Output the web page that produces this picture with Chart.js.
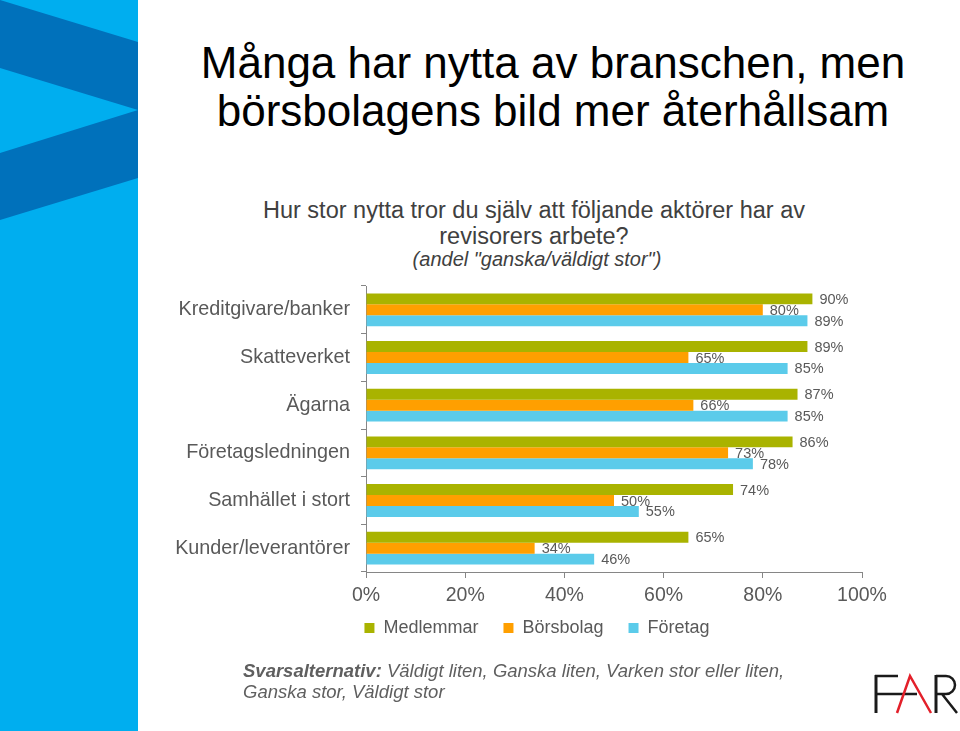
<!DOCTYPE html>
<html>
<head>
<meta charset="utf-8">
<script src="https://cdn.jsdelivr.net/npm/chart.js@4.4.1/dist/chart.umd.min.js"></script>
<style>
  body { margin: 0; width: 960px; height: 731px; position: relative; overflow: hidden; background: #fff;
         font-family: "Liberation Sans", Arial, sans-serif; }
  .abs { position: absolute; }
  #title { left: 150px; width: 806px; top: 39px; font-size: 44px; line-height: 48px; text-align: center; color: #000; }
  #sub { left: 150px; width: 768px; top: 197px; font-size: 23.5px; line-height: 26px; text-align: center; color: #404040; }
  #note { left: 150px; width: 774px; top: 248px; font-size: 20px; line-height: 23px; text-align: center; color: #404040; font-style: italic; }
  #foot { left: 243px; top: 660px; font-size: 18.5px; line-height: 21px; color: #5f5f5f; font-style: italic; }
  #wrap { left: 156px; top: 278px; width: 760px; height: 383px; }
</style>
</head>
<body>

<svg class="abs" style="left:0;top:0" width="139" height="731">
  <rect x="0" y="0" width="138" height="731" fill="#00AEEF"/>
  <polygon points="0,0 138,42 138,110 0,68" fill="#0071BB"/>
  <polygon points="0,153 138,110 138,178 0,220" fill="#0071BB"/>
</svg>

<div id="title" class="abs">Många har nytta av branschen, men<br>börsbolagens bild mer återhållsam</div>
<div id="sub" class="abs">Hur stor nytta tror du själv att följande aktörer har av<br>revisorers arbete?</div>
<div id="note" class="abs">(andel "ganska/väldigt stor")</div>

<div id="wrap" class="abs"><canvas id="chart"></canvas></div>

<div id="foot" class="abs"><b>Svarsalternativ:</b> Väldigt liten, Ganska liten, Varken stor eller liten,<br>Ganska stor, Väldigt stor</div>

<svg class="abs" style="left:870px;top:670px" width="90" height="48">
  <g stroke-linecap="butt" fill="none">
    <line x1="6" y1="5" x2="6" y2="43" stroke="#1a1a1a" stroke-width="3"/>
    <line x1="5" y1="6" x2="28" y2="6" stroke="#1a1a1a" stroke-width="2.5"/>
    <line x1="5" y1="24" x2="47" y2="24" stroke="#1a1a1a" stroke-width="2.5"/>
    <polyline points="27,43 40,6 61,43" stroke="#e3202a" stroke-width="2.5"/>
    <line x1="66" y1="5" x2="66" y2="43" stroke="#1a1a1a" stroke-width="3"/>
    <path d="M66,6 H76 A9,9 0 0 1 76,24 H66 M72,24 L87,43" stroke="#1a1a1a" stroke-width="2.5"/>
  </g>
</svg>

<script>
// Hur stor nytta ... (andel "ganska/väldigt stor")
var categories = ['Kreditgivare/banker', 'Skatteverket', 'Ägarna', 'Företagsledningen', 'Samhället i stort', 'Kunder/leverantörer'];
var medlemmar = [90, 89, 87, 86, 74, 65];
var borsbolag = [80, 65, 66, 73, 50, 34];
var foretag = [89, 85, 85, 78, 55, 46];
var xTicks = [0, 20, 40, 60, 80, 100];

var grey = '#595959';
var axisGrey = '#868686';
var fontFam = '"Liberation Sans", Arial, sans-serif';

// percent labels just right of each bar end
var barLabels = {
  id: 'barLabels',
  afterDatasetsDraw: function(chart) {
    var ctx = chart.ctx;
    ctx.save();
    ctx.font = '14.5px ' + fontFam;
    ctx.fillStyle = grey;
    ctx.textAlign = 'left';
    ctx.textBaseline = 'middle';
    chart.data.datasets.forEach(function(ds, i) {
      chart.getDatasetMeta(i).data.forEach(function(bar, j) {
        ctx.fillText(ds.data[j] + '%', bar.x + 7, bar.y + 1);
      });
    });
    ctx.restore();
  }
};

// move the legend a bit: it sits under the whole slide, not just the plot
var legendPlace = {
  id: 'legendPlace',
  afterLayout: function(chart) {
    var lg = chart.legend;
    var h = lg.height;
    lg.top = chart.chartArea.bottom + 22;
    lg.bottom = lg.top + h;
    lg.left += 28;
    lg.right += 28;
  }
};

var ctx = document.getElementById('chart').getContext('2d');
var chart = new Chart(ctx, {
  type: 'bar',
  data: {
    labels: categories,
    datasets: [
      { label: 'Medlemmar', data: medlemmar, backgroundColor: '#A9B300' },
      { label: 'Börsbolag', data: borsbolag, backgroundColor: '#FF9F00' },
      { label: 'Företag', data: foretag, backgroundColor: '#5BCBEA' }
    ]
  },
  options: {
    indexAxis: 'y',
    responsive: true,
    maintainAspectRatio: false,
    animation: false,
    categoryPercentage: 0.69,
    barPercentage: 1.0,
    layout: { padding: { top: 8, left: 0, right: 54, bottom: 0 } },
    scales: {
      x: {
        min: 0,
        max: 100,
        afterBuildTicks: function(scale) {
          scale.ticks = xTicks.map(function(v) { return { value: v }; });
        },
        afterFit: function(scale) { scale.height = 36; },
        ticks: {
          callback: function(v) { return v + '%'; },
          font: { size: 19.5, family: fontFam },
          color: grey,
          padding: 6,
          maxRotation: 0
        },
        grid: { drawOnChartArea: false, tickLength: 6, color: axisGrey },
        border: { color: axisGrey }
      },
      y: {
        afterFit: function(scale) {
          scale.width = 210;
          scale.paddingTop = 0;
          scale.paddingBottom = 0;
        },
        ticks: {
          font: { size: 19.8, family: fontFam },
          color: grey,
          padding: 11
        },
        grid: { drawOnChartArea: false, tickLength: 5, color: axisGrey },
        border: { color: axisGrey }
      }
    },
    plugins: {
      legend: {
        position: 'bottom',
        labels: {
          boxWidth: 10,
          boxHeight: 10,
          padding: 25,
          color: grey,
          font: { size: 18, family: fontFam }
        }
      },
      tooltip: { enabled: false }
    }
  },
  plugins: [barLabels, legendPlace]
});
</script>
</body>
</html>
